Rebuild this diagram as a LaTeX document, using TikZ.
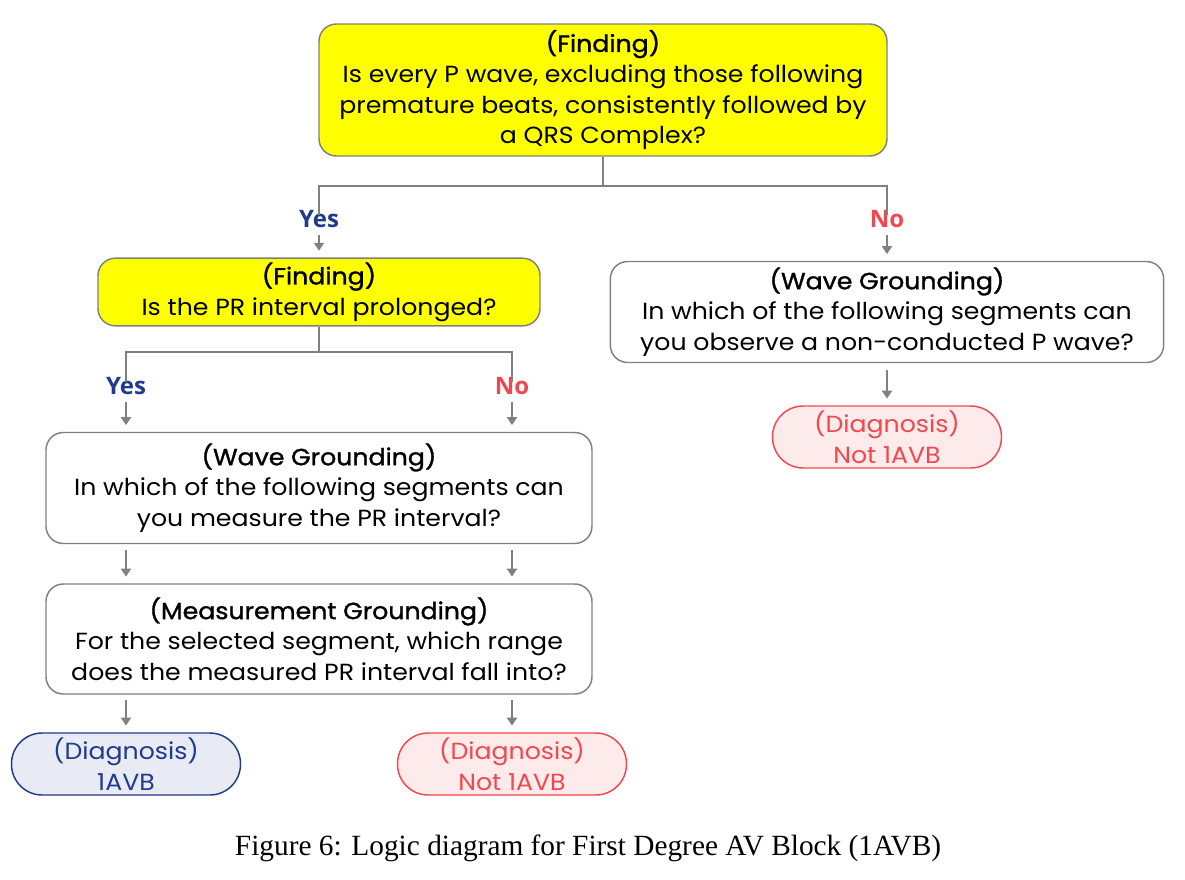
\documentclass[tikz,border=0pt]{standalone}
\usepackage{fontspec}
\setmainfont{Poppins}[FakeStretch=1.08]
\newfontfamily\titlefont{Poppins}[FakeStretch=1.08,FakeBold=1.3]
\newfontfamily\lblfont{Open Sans}
\newfontfamily\capfont{Liberation Serif}
\usetikzlibrary{arrows.meta}

\definecolor{findfill}{RGB}{255,255,0}
\definecolor{boxline}{RGB}{128,128,128}
\definecolor{yesblue}{RGB}{31,58,143}
\definecolor{nored}{RGB}{240,72,78}
\definecolor{yesfill}{RGB}{232,235,243}
\definecolor{nofill}{RGB}{253,234,234}

\begin{document}
\begin{tikzpicture}[x=0.75pt,y=-0.75pt]

      \useasboundingbox (0,0) rectangle (1185,879);

      \begin{scope}[every node/.style={draw=boxline,line width=1.1pt,rounded corners=13pt,
          align=center,font=\fontsize{17.5}{23}\selectfont}]
        \node[fill=findfill,minimum width=426pt,minimum height=99pt] (find1) at (603,90)
          {{\titlefont (Finding)}\\Is every P wave, excluding those following\\premature beats, consistently followed by\\a QRS Complex?};
        \node[fill=findfill,minimum width=331.5pt,minimum height=45.75pt] (find2) at (319,292)
          {{\titlefont (Finding)}\\Is the PR interval prolonged?};
        \node[minimum width=415pt,minimum height=75.75pt] (wave2) at (887,312)
          {{\titlefont (Wave Grounding)}\\In which of the following segments can\\you observe a non-conducted P wave?};
        \node[minimum width=409.5pt,minimum height=83.25pt] (wave1) at (319,488)
          {{\titlefont (Wave Grounding)}\\In which of the following segments can\\you measure the PR interval?};
        \node[minimum width=409.5pt,minimum height=82.5pt] (meas) at (319,639)
          {{\titlefont (Measurement Grounding)}\\For the selected segment, which range\\does the measured PR interval fall into?};
      \end{scope}

      \begin{scope}[every node/.style={line width=1.1pt,rounded corners=23pt,align=center,
          minimum width=171.75pt,minimum height=46.5pt,font=\fontsize{17.5}{23}\selectfont}]
        \node[draw=nored,fill=nofill,text=nored] (diag3) at (887,437) {(Diagnosis)\\Not 1AVB};
        \node[draw=yesblue,fill=yesfill,text=yesblue] (diag1) at (126,764) {(Diagnosis)\\1AVB};
        \node[draw=nored,fill=nofill,text=nored] (diag2) at (512,764) {(Diagnosis)\\Not 1AVB};
      \end{scope}

      \begin{scope}[every node/.style={font=\lblfont\bfseries\fontsize{18}{21}\selectfont,inner sep=2pt}]
        \node[text=yesblue] (yes1) at (319,219) {Yes};
        \node[text=nored] (no1) at (887,219) {No};
        \node[text=yesblue] (yes2) at (126,386) {Yes};
        \node[text=nored] (no2) at (512,386) {No};
      \end{scope}

      \coordinate (bar1) at (603,186);
      \coordinate (bar2) at (319,352);

      \begin{scope}[draw=boxline,line width=1.5pt]
        % branch bars
        \draw (find1.south) -- (bar1) -| ([yshift=-6pt]yes1.north);
        \draw (bar1) -| ([yshift=-6pt]no1.north);
        \draw (find2.south) -- (bar2) -| ([yshift=-6pt]yes2.north);
        \draw (bar2) -| ([yshift=-6pt]no2.north);
      \end{scope}

      \begin{scope}[every path/.style={draw=boxline,line width=1.5pt},
          >={Triangle[width=7.5pt,length=6pt]}]
        \draw[->,shorten <=3pt,shorten >=5pt] (yes1) -- (find2);
        \draw[->,shorten <=3pt,shorten >=5pt] (no1) -- (wave2);
        \draw[->,shorten <=3pt,shorten >=5pt] (yes2) -- (yes2 |- wave1.north);
        \draw[->,shorten <=3pt,shorten >=5pt] (no2) -- (no2 |- wave1.north);
        \draw[->,shorten <=4pt,shorten >=5pt] (wave1.south -| yes2) -- (yes2 |- meas.north);
        \draw[->,shorten <=4pt,shorten >=5pt] (wave1.south -| no2) -- (no2 |- meas.north);
        \draw[->,shorten <=4pt,shorten >=5pt] (meas.south -| diag1) -- (diag1);
        \draw[->,shorten <=4pt,shorten >=5pt] (meas.south -| diag2) -- (diag2);
        \draw[->,shorten <=5pt,shorten >=5pt] (wave2) -- (diag3);
      \end{scope}

      \node[font=\capfont\fontsize{22}{26}\selectfont] (caption) at (588,848)
        {Figure 6: Logic diagram for First Degree AV Block (1AVB)};

\end{tikzpicture}
\end{document}
